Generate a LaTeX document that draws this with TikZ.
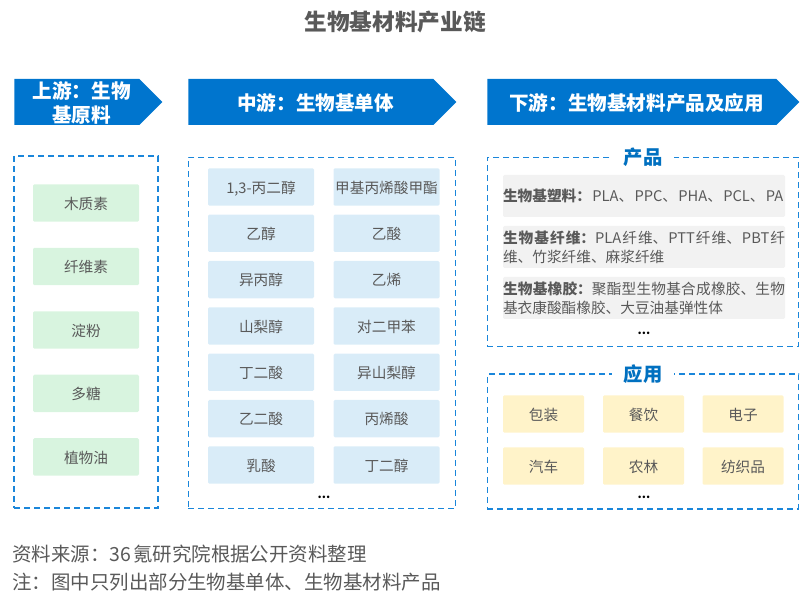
\documentclass[tikz,border=0pt]{standalone}
\usepackage{fontspec}
\setmainfont{Noto Sans CJK SC}
\XeTeXlinebreaklocale "zh"
\XeTeXlinebreakskip=0pt plus 2pt
\usepackage{xcolor}
\usepackage{tikz}
\usetikzlibrary{shapes.symbols}
\definecolor{chevblue}{HTML}{0075CE}
\definecolor{dashblue}{HTML}{1A86DA}
\definecolor{headblue}{HTML}{0070C0}
\definecolor{txtgray}{HTML}{595959}
\definecolor{rawgreen}{HTML}{D8F4DF}
\definecolor{monoblue}{HTML}{D9ECF8}
\definecolor{prodgray}{HTML}{F2F2F2}
\definecolor{useyellow}{HTML}{FFF3C9}
\newcommand{\chevline}[1]{\hspace*{7.5pt}\raisebox{-0.75pt}[\height][\depth]{#1}}
\tikzstyle{chevron} = [signal, signal to=east, signal pointer angle=90, minimum height=34.5pt, inner sep=0pt, anchor=west, fill=chevblue, text=white, align=center, font=\fontsize{14.7}{18}\selectfont\bfseries]
\tikzstyle{dashbox} = [rectangle, draw=dashblue, line width=1.2pt, dash pattern=on 4.5pt off 3pt]
\tikzstyle{rawbox} = [rectangle, rounded corners=1pt, minimum width=79.5pt, minimum height=28pt, inner sep=0pt, text height=10.5pt, text depth=1pt, text centered, fill=rawgreen, text=txtgray, font=\fontsize{11}{13}\selectfont]
\tikzstyle{monobox} = [rawbox, fill=monoblue]
\tikzstyle{prodbox} = [rectangle, rounded corners=1pt, minimum width=211.5pt, minimum height=31.5pt, text width=211.5pt, inner sep=0pt, fill=prodgray, text=txtgray, align=justify, font=\fontsize{11}{14}\selectfont]
\tikzstyle{usebox} = [rawbox, minimum width=60.75pt, fill=useyellow]
\tikzstyle{head} = [fill=white, inner xsep=9pt, inner ysep=0pt, text=headblue, font=\fontsize{14.5}{16}\selectfont\bfseries]
\tikzstyle{dots} = [inner sep=0pt, text=black, font=\fontsize{9}{10}\selectfont\bfseries]
\tikzstyle{note} = [anchor=west, inner sep=0pt, text=txtgray, font=\fontsize{14.6}{17}\selectfont]
\begin{document}
\begin{tikzpicture}[x=0.75pt, y=-0.75pt]
        \useasboundingbox (0,0) rectangle (800,605);
        \node (title) [inner sep=0pt, text=txtgray, font=\fontsize{17}{20}\selectfont\bfseries] at (395,22) {生物基材料产业链};

        % arrows on top
        \node (up) [chevron, minimum width=111pt] at (14,102) {\chevline{上游：生物}\\\chevline{基原料}};
        \node (mid) [chevron, minimum width=201pt] at (188,102) {\chevline{中游：生物基单体}};
        \node (down) [chevron, minimum width=234pt] at (487,102) {\chevline{下游：生物基材料产品及应用}};

        % dashed frames
        \node (upframe) [dashbox, minimum width=108pt, minimum height=264pt] at (86,332) {};
        \node (midframe) [dashbox, minimum width=200.5pt, minimum height=263.5pt] at (322,333) {};
        \node (prodframe) [dashbox, minimum width=233.5pt, minimum height=142pt] at (643,252) {};
        \node (useframe) [dashbox, minimum width=233.5pt, minimum height=101pt] at (643,441.5) {};
        \node (prodhead) [head] at (643,157) {产品};
        \node (usehead) [head] at (643,374) {应用};

        % raw materials
        \begin{scope}[node distance=47.6pt]
        \node (lignin) [rawbox] at (86,203) {木质素};
        \node (cellulose) [rawbox, below of=lignin] {纤维素};
        \node (starch) [rawbox, below of=cellulose] {淀粉};
        \node (sugar) [rawbox, below of=starch] {多糖};
        \node (oil) [rawbox, below of=sugar] {植物油};
        \end{scope}

        % monomers
        \begin{scope}[node distance=34.75pt]
        \node (pdo) [monobox] at (261,187) {1,3-丙二醇};
        \node (etoh) [monobox, below of=pdo] {乙醇};
        \node (ipa) [monobox, below of=etoh] {异丙醇};
        \node (sorbitol) [monobox, below of=ipa] {山梨醇};
        \node (sa) [monobox, below of=sorbitol] {丁二酸};
        \node (eg) [monobox, below of=sa] {乙二酸};
        \node (la) [monobox, below of=eg] {乳酸};
        \node (mma) [monobox] at (386.5,187) {甲基丙烯酸甲酯};
        \node (hac) [monobox, below of=mma] {乙酸};
        \node (ethene) [monobox, below of=hac] {乙烯};
        \node (px) [monobox, below of=ethene] {对二甲苯};
        \node (isb) [monobox, below of=px] {异山梨醇};
        \node (aa) [monobox, below of=isb] {丙烯酸};
        \node (bdo) [monobox, below of=aa] {丁二醇};
        \end{scope}
        \node (middots) [dots] at (324,497) {...};

        % products
        \node (plastic) [prodbox] at (644,196) {\textbf{生物基塑料：}\hspace{1pt}PLA、\hspace{1pt}PPC、\hspace{1pt}PHA、\hspace{1pt}PCL、\hspace{1pt}PA};
        \node (fiber) [prodbox] at (644,247) {\textbf{生物基纤维：}PLA纤维、PTT纤维、PBT纤维、竹浆纤维、麻浆纤维};
        \node (rubber) [prodbox] at (644,298) {\textbf{生物基橡胶：}聚酯型生物基合成橡胶、生物基衣康酸酯橡胶、大豆油基弹性体};
        \node (proddots) [dots] at (644,333) {...};

        % applications
        \node (pack) [usebox] at (543.5,414) {包装};
        \node (food) [usebox] at (643.5,414) {餐饮};
        \node (elec) [usebox] at (743,414) {电子};
        \node (car) [usebox] at (543.5,466) {汽车};
        \node (farm) [usebox] at (643.5,466) {农林};
        \node (textile) [usebox] at (743,466) {纺织品};
        \node (usedots) [dots] at (644,497) {...};

        \node (source) [note] at (12,554) {资料来源：36\hspace{1.5pt}氪研究院根据公开资料整理};
        \node (remark) [note] at (12,582) {注：图中只列出部分生物基单体、生物基材料产品};
\end{tikzpicture}
\end{document}
